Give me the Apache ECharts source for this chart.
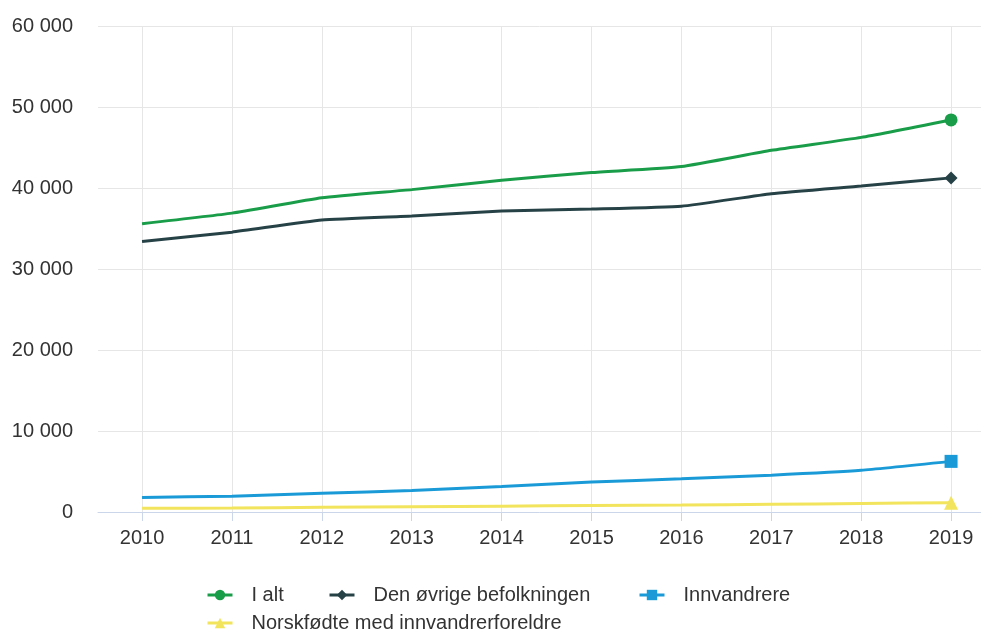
<!DOCTYPE html>
<html>
<head>
<meta charset="utf-8">
<script src="https://cdn.jsdelivr.net/npm/echarts@6/dist/echarts.min.js"></script>
<style>html,body{margin:0;padding:0;background:#fff}#c{width:981px;height:632px}</style>
</head>
<body>
<div id="c"></div>
<script>
const years = [2010, 2011, 2012, 2013, 2014, 2015, 2016, 2017, 2018, 2019];
const iAlt = [35600, 36900, 38800, 39800, 40950, 41900, 42650, 44650, 46250, 48400];
const ovrige = [33400, 34550, 36050, 36550, 37150, 37400, 37750, 39300, 40250, 41250];
const innvandrere = [1800, 1950, 2300, 2650, 3150, 3700, 4100, 4550, 5150, 6250];
const norskfodte = [450, 500, 580, 650, 720, 800, 850, 950, 1050, 1150];
const yTicks = [0, 10000, 20000, 30000, 40000, 50000, 60000];

const seriesNames = ['I alt', 'Den øvrige befolkningen', 'Innvandrere', 'Norskfødte med innvandrerforeldre'];
const colors = ['#1a9d49', '#274247', '#1a9bd7', '#f2e45c'];
const symbols = ['circle', 'diamond', 'rect', 'triangle'];
const sizes = [13, 13, 13, 14];
const values = [iAlt, ovrige, innvandrere, norskfodte];

function fmt(v) { return String(v).replace(/\B(?=(\d{3})+(?!\d))/g, ' '); }

const chart = echarts.init(document.getElementById('c'));
const txt = { fontFamily: 'Liberation Sans, Arial, sans-serif', fontSize: 20, color: '#333' };
const legendPos = [[206, 585], [328, 585], [638, 585], [206, 613]];
const legends = seriesNames.map((name, i) => ({
  data: [name], left: legendPos[i][0], top: legendPos[i][1], padding: 0,
  itemWidth: 25, itemHeight: 13,
  lineStyle: { width: 3 },
  textStyle: Object.assign({ padding: [0, 0, 0, 14] }, txt)
}));

chart.setOption({
  animation: false,
  color: colors,
  grid: { left: 98, right: 0, top: 26, bottom: 120, containLabel: false },
  xAxis: {
    type: 'value', min: 2009.51, max: 2019.333,
    axisLine: { show: true, lineStyle: { color: '#ccd6eb', width: 1 } },
    axisTick: { show: true, length: 9, lineStyle: { color: '#ccd6eb' }, customValues: years },
    axisLabel: Object.assign({ customValues: years, margin: 16, formatter: v => String(v) }, txt),
    splitLine: { show: true, lineStyle: { color: '#e6e6e6', width: 1 } }
  },
  yAxis: {
    type: 'value', min: 0, max: 60000, interval: 10000,
    axisLine: { show: false }, axisTick: { show: false },
    axisLabel: Object.assign({ margin: 25, formatter: v => fmt(v) }, txt),
    splitLine: { show: true, lineStyle: { color: '#e6e6e6', width: 1 } }
  },
  legend: legends,
  series: seriesNames.map((name, i) => ({
    name, type: 'line',
    data: years.map((y, j) => [y, values[i][j]]),
    symbol: symbols[i],
    symbolSize: (v, p) => p.dataIndex === years.length - 1 ? sizes[i] : 0,
    showAllSymbol: true,
    smooth: 0.15,
    lineStyle: { width: 3, color: colors[i] },
    itemStyle: { color: colors[i] },
    z: 10 - i
  }))
});
</script>
</body>
</html>
